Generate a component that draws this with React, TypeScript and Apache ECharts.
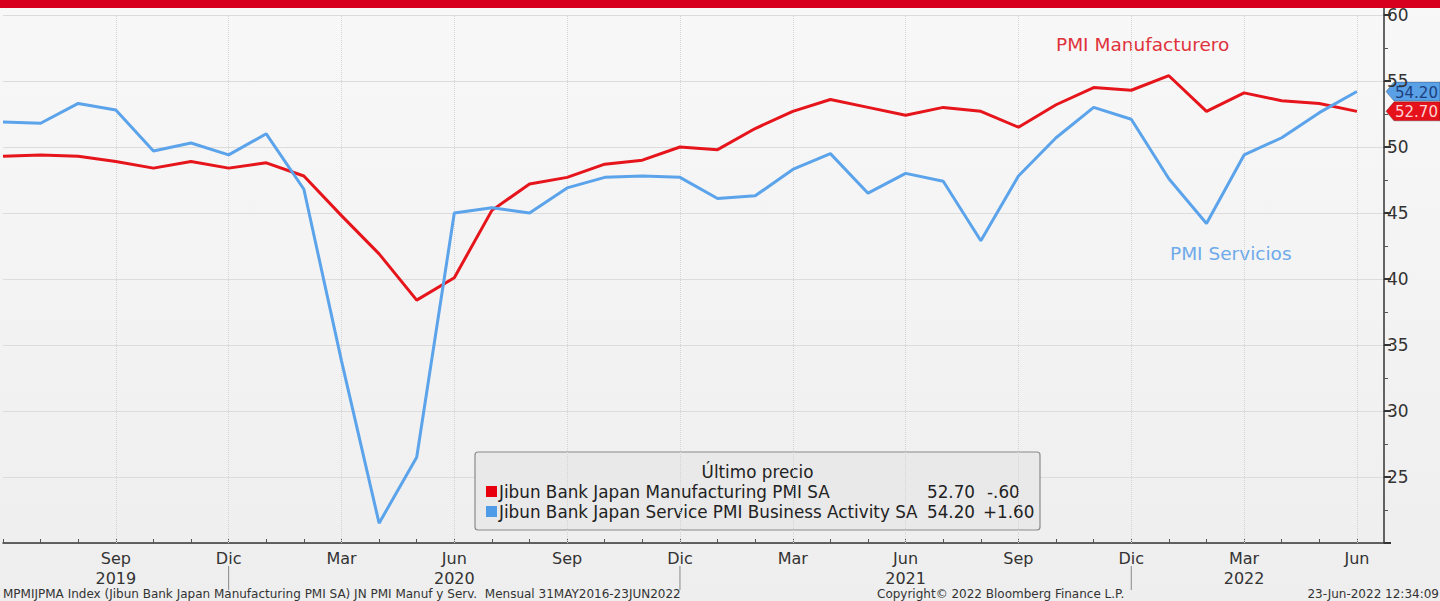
import React, { useEffect, useRef } from 'react';
import * as echarts from 'echarts';

// Monthly, Jun 2019 .. Jun 2022
const months = [
  'Jun 2019', 'Jul 2019', 'Ago 2019', 'Sep 2019', 'Oct 2019', 'Nov 2019', 'Dic 2019',
  'Ene 2020', 'Feb 2020', 'Mar 2020', 'Abr 2020', 'May 2020', 'Jun 2020', 'Jul 2020',
  'Ago 2020', 'Sep 2020', 'Oct 2020', 'Nov 2020', 'Dic 2020', 'Ene 2021', 'Feb 2021',
  'Mar 2021', 'Abr 2021', 'May 2021', 'Jun 2021', 'Jul 2021', 'Ago 2021', 'Sep 2021',
  'Oct 2021', 'Nov 2021', 'Dic 2021', 'Ene 2022', 'Feb 2022', 'Mar 2022', 'Abr 2022',
  'May 2022', 'Jun 2022',
];

const manufacturing = [
  49.3, 49.4, 49.3, 48.9, 48.4, 48.9, 48.4,
  48.8, 47.8, 44.8, 41.9, 38.4, 40.1, 45.2,
  47.2, 47.7, 48.7, 49.0, 50.0, 49.8, 51.4,
  52.7, 53.6, 53.0, 52.4, 53.0, 52.7, 51.5,
  53.2, 54.5, 54.3, 55.4, 52.7, 54.1, 53.5,
  53.3, 52.7,
];

const services = [
  51.9, 51.8, 53.3, 52.8, 49.7, 50.3, 49.4,
  51.0, 46.8, 33.8, 21.5, 26.5, 45.0, 45.4,
  45.0, 46.9, 47.7, 47.8, 47.7, 46.1, 46.3,
  48.3, 49.5, 46.5, 48.0, 47.4, 42.9, 47.8,
  50.7, 53.0, 52.1, 47.6, 44.2, 49.4, 50.7,
  52.6, 54.2,
];

const tickMonths = [3, 6, 9, 12, 15, 18, 21, 24, 27, 30, 33, 36];
const tickLabels = [
  'Sep\n2019', 'Dic', 'Mar', 'Jun\n2020', 'Sep', 'Dic',
  'Mar', 'Jun\n2021', 'Sep', 'Dic', 'Mar\n2022', 'Jun',
];
const yearBoundaryMonths = [6, 18, 30];
const yTickValues = [25, 30, 35, 40, 45, 50, 55, 60];

const seriesNames = [
  'Jibun Bank Japan Manufacturing PMI SA',
  'Jibun Bank Japan Service PMI Business Activity SA',
];
const lastValues = ['52.70', '54.20'];
const changes = ['-.60', '+1.60'];

const RED = '#e6141b';
const BLUE = '#5ba3ea';
const FONT = 'DejaVu Sans';

export default function App() {
  const ref = useRef<HTMLDivElement>(null);

  useEffect(() => {
    const chart = echarts.init(ref.current!, null, { renderer: 'svg' });
    const labelMap: Record<number, string> = {};
    tickMonths.forEach((m, i) => (labelMap[m] = tickLabels[i]));

    const option: any = {
      animation: false,
      backgroundColor: {
        type: 'linear', x: 0, y: 0, x2: 0, y2: 1,
        colorStops: [
          { offset: 0, color: '#f8f8f8' },
          { offset: 1, color: '#eeeeee' },
        ],
      },
      grid: { left: 0, right: 56, top: 15, bottom: 58, containLabel: false },
      xAxis: {
        type: 'value',
        min: 0,
        max: 36.72,
        interval: 1,
        axisLine: { show: true, onZero: false, lineStyle: { color: '#333', width: 1.5 } },
        axisTick: { show: true, inside: true, length: 4, lineStyle: { color: '#555' } },
        axisLabel: {
          show: true,
          formatter: (v: number) => (Number.isInteger(v) && labelMap[v] ? labelMap[v] : ''),
          color: '#333',
          fontFamily: FONT,
          fontSize: 16,
          lineHeight: 20,
          margin: 5,
          showMaxLabel: false,
        },
        splitLine: { show: false },
      },
      yAxis: {
        type: 'value',
        position: 'right',
        min: 20,
        max: 60,
        interval: 5,
        axisLine: { show: true, onZero: false, lineStyle: { color: '#333', width: 1.5 } },
        axisTick: { show: true, length: 7, lineStyle: { color: '#333', width: 2 } },
        minorTick: { show: true, splitNumber: 2, length: 4, lineStyle: { color: '#555' } },
        axisLabel: {
          formatter: (v: number) => (yTickValues.includes(v) ? String(v) : ''),
          color: '#333',
          fontFamily: FONT,
          fontSize: 17,
          lineHeight: 16,
          margin: 3,
        },
        splitLine: { show: true, lineStyle: { color: '#dcdcdc', width: 1 } },
      },
      series: [
        {
          name: seriesNames[0],
          type: 'line',
          data: manufacturing.map((v, i) => [i, v]),
          showSymbol: false,
          symbol: 'none',
          lineStyle: { color: RED, width: 3 },
          z: 3,
          markLine: {
            silent: true,
            symbol: ['none', 'none'],
            label: { show: false },
            lineStyle: { color: '#d4d4d4', type: 'dotted', width: 1 },
            data: tickMonths.map((m) => ({ xAxis: m })),
            z: 1,
          },
        },
        {
          name: seriesNames[1],
          type: 'line',
          data: services.map((v, i) => [i, v]),
          showSymbol: false,
          symbol: 'none',
          lineStyle: { color: BLUE, width: 3 },
          z: 4,
        },
      ],
    };
    chart.setOption(option);

    const xp = (m: number) => chart.convertToPixel({ xAxisIndex: 0 }, m) as number;
    const yp = (v: number) => chart.convertToPixel({ yAxisIndex: 0 }, v) as number;
    const axisX = xp(36.72);
    const topY = yp(60);
    const bottomY = yp(20);

    const tag = (value: number, text: string, fill: string, textColor: string) => {
      const y = yp(value);
      const x0 = axisX + 2;
      return {
        type: 'group',
        z: 20,
        children: [
          {
            type: 'polygon',
            shape: {
              points: [
                [x0, y], [x0 + 8, y - 9.5], [1440, y - 9.5], [1440, y + 9.5], [x0 + 8, y + 9.5],
              ],
            },
            style: { fill, stroke: 'rgba(0,0,0,0.25)', lineWidth: 1 },
          },
          {
            type: 'text',
            x: x0 + 9,
            y: y + 1,
            style: {
              text,
              fill: textColor,
              font: `15px "${FONT}"`,
              lineHeight: 15,
              verticalAlign: 'middle',
              align: 'left',
            },
          },
        ],
      };
    };

    const legendX = 475;
    const legendY = 452;
    const legendW = 565;
    const legendH = 78;
    const LF = `16.8px "${FONT}"`;

    const graphic: any[] = [
      { type: 'rect', shape: { x: 0, y: 0, width: 1440, height: 8 }, style: { fill: '#d8001f' }, z: 30 },
      {
        type: 'line',
        shape: { x1: axisX, y1: 8, x2: axisX, y2: topY },
        style: { stroke: '#333', lineWidth: 1.5 },
      },
      ...yearBoundaryMonths.map((m) => ({
        type: 'line',
        shape: { x1: xp(m), y1: bottomY + 23, x2: xp(m), y2: bottomY + 47 },
        style: { stroke: '#888', lineWidth: 1 },
      })),
      tag(54.2, lastValues[1], '#5aa0e6', '#1c3f7c'),
      tag(52.7, lastValues[0], '#e5121b', '#ffd4d4'),
      {
        type: 'text', x: 1056, y: 44,
        style: { text: 'PMI Manufacturero', fill: '#e0323c', font: `18.5px "${FONT}"`, verticalAlign: 'middle' },
      },
      {
        type: 'text', x: 1170, y: 253,
        style: { text: 'PMI Servicios', fill: '#6eaaea', font: `18.5px "${FONT}"`, verticalAlign: 'middle' },
      },
      {
        type: 'group',
        z: 25,
        children: [
          {
            type: 'rect',
            shape: { x: legendX, y: legendY, width: legendW, height: legendH, r: 3 },
            style: { fill: '#e9e9e9', stroke: '#8a8a8a', lineWidth: 1.2 },
          },
          {
            type: 'text', x: legendX + legendW / 2, y: legendY + 20,
            style: { text: 'Último precio', fill: '#222', font: LF, align: 'center', verticalAlign: 'middle' },
          },
          {
            type: 'rect', shape: { x: legendX + 11, y: legendY + 34, width: 11, height: 11 },
            style: { fill: '#e8000d' },
          },
          {
            type: 'text', x: legendX + 24, y: legendY + 40,
            style: { text: seriesNames[0], fill: '#222', font: LF, verticalAlign: 'middle' },
          },
          {
            type: 'text', x: legendX + 500, y: legendY + 40,
            style: { text: lastValues[0], fill: '#222', font: LF, align: 'right', verticalAlign: 'middle' },
          },
          {
            type: 'text', x: legendX + 512, y: legendY + 40,
            style: { text: changes[0], fill: '#222', font: LF, verticalAlign: 'middle' },
          },
          {
            type: 'rect', shape: { x: legendX + 11, y: legendY + 54, width: 11, height: 11 },
            style: { fill: '#4f9be8' },
          },
          {
            type: 'text', x: legendX + 24, y: legendY + 60,
            style: { text: seriesNames[1], fill: '#222', font: LF, verticalAlign: 'middle' },
          },
          {
            type: 'text', x: legendX + 500, y: legendY + 60,
            style: { text: lastValues[1], fill: '#222', font: LF, align: 'right', verticalAlign: 'middle' },
          },
          {
            type: 'text', x: legendX + 508, y: legendY + 60,
            style: { text: changes[1], fill: '#222', font: LF, verticalAlign: 'middle' },
          },
        ],
      },
      {
        type: 'text', x: 3, y: 594,
        style: {
          text: 'MPMIJPMA Index (Jibun Bank Japan Manufacturing PMI SA) JN PMI Manuf y Serv.  Mensual 31MAY2016-23JUN2022',
          fill: '#333', font: `12px "${FONT}"`, verticalAlign: 'middle',
        },
      },
      {
        type: 'text', x: 877, y: 594,
        style: { text: 'Copyright© 2022 Bloomberg Finance L.P.', fill: '#333', font: `12px "${FONT}"`, verticalAlign: 'middle' },
      },
      {
        type: 'text', x: 1439, y: 594,
        style: { text: '23-Jun-2022 12:34:09', fill: '#333', font: `12px "${FONT}"`, align: 'right', verticalAlign: 'middle' },
      },
    ];
    chart.setOption({ graphic });

    return () => chart.dispose();
  }, []);

  return (
    <div
      ref={ref}
      style={{ position: 'absolute', left: 0, top: 0, width: 1440, height: 601 }}
    />
  );
}
